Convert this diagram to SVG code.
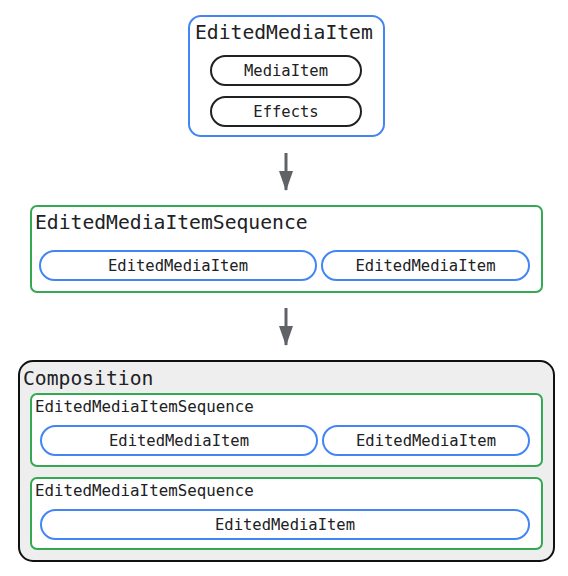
<svg xmlns="http://www.w3.org/2000/svg" width="568" height="576" viewBox="0 0 568 576">
<defs>
<style>
.t{font-family:"DejaVu Sans Mono","Liberation Mono",monospace;fill:#202124}
.big{font-size:19.7px}
.mid{font-size:15.8px}
.sm{font-size:15.5px}
.blue{fill:#fff;stroke:#4285f4;stroke-width:2}
.green{fill:#fff;stroke:#34a853;stroke-width:2}
.pillk{fill:#fff;stroke:#202124;stroke-width:2}
.comp{fill:#eeeeee;stroke:#111;stroke-width:2}
.arr{stroke:#5f6368;stroke-width:3;fill:none}
</style>
<marker id="ah" viewBox="0 0 20 14" refX="19" refY="7" markerWidth="20" markerHeight="14" markerUnits="userSpaceOnUse" orient="auto">
<path d="M0,0 L20,7 L0,14 z" fill="#5f6368"/>
</marker>
</defs>
<g id="edited-media-item">
<rect class="blue" x="189" y="16" width="195" height="120" rx="12"/>
<text class="t big" x="195" y="39">EditedMediaItem</text>
<g id="media-item"><rect class="pillk" x="211" y="56" width="150" height="29" rx="14.5"/>
<text class="t sm" x="286" y="76" text-anchor="middle">MediaItem</text></g>
<g id="effects"><rect class="pillk" x="211" y="97" width="150" height="29" rx="14.5"/>
<text class="t sm" x="286" y="117" text-anchor="middle">Effects</text></g>
</g>
<g id="connectors">
<line class="arr" x1="286" y1="153" x2="286" y2="190" marker-end="url(#ah)"/>
<line class="arr" x1="286" y1="308" x2="286" y2="345" marker-end="url(#ah)"/>
</g>
<g id="sequence">
<rect class="green" x="31" y="206" width="511" height="86" rx="6"/>
<text class="t big" x="35" y="229">EditedMediaItemSequence</text>
<g id="seq-item-1"><rect class="blue" x="40" y="251" width="276" height="29" rx="14.5"/>
<text class="t sm" x="178" y="271" text-anchor="middle">EditedMediaItem</text></g>
<g id="seq-item-2"><rect class="blue" x="322" y="251" width="207" height="29" rx="14.5"/>
<text class="t sm" x="425.5" y="271" text-anchor="middle">EditedMediaItem</text></g>
</g>
<g id="composition">
<rect class="comp" x="19" y="361" width="535" height="200" rx="14"/>
<text class="t big" x="23" y="385">Composition</text>
<g id="comp-seq-1">
<rect class="green" x="31" y="394" width="511" height="72" rx="6"/>
<text class="t mid" x="35" y="412">EditedMediaItemSequence</text>
<g id="comp-seq-1-item-1"><rect class="blue" x="41" y="426" width="276" height="29" rx="14.5"/>
<text class="t sm" x="179" y="446" text-anchor="middle">EditedMediaItem</text></g>
<g id="comp-seq-1-item-2"><rect class="blue" x="323" y="426" width="206" height="29" rx="14.5"/>
<text class="t sm" x="426" y="446" text-anchor="middle">EditedMediaItem</text></g>
</g>
<g id="comp-seq-2">
<rect class="green" x="31" y="478" width="511" height="71" rx="6"/>
<text class="t mid" x="35" y="496">EditedMediaItemSequence</text>
<g id="comp-seq-2-item-1"><rect class="blue" x="41" y="510" width="488" height="29" rx="14.5"/>
<text class="t sm" x="285" y="530" text-anchor="middle">EditedMediaItem</text></g>
</g>
</g>
</svg>
